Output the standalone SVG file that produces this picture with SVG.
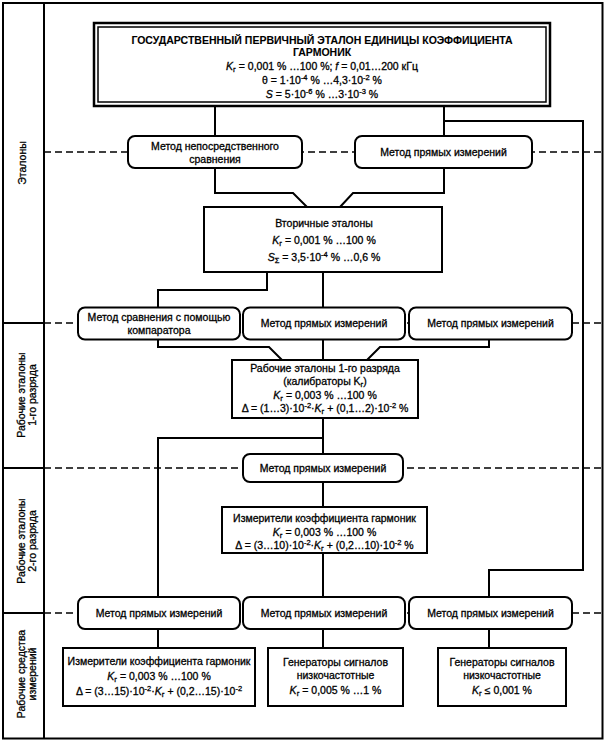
<svg xmlns="http://www.w3.org/2000/svg" width="605" height="742" viewBox="0 0 605 742">
<defs>
<style>
.frame{fill:none;stroke:#000;stroke-width:2}
.box{fill:#fff;stroke:#000;stroke-width:2}
.conn{fill:none;stroke:#000;stroke-width:2}
.dash{fill:none;stroke:#000;stroke-width:1.6;stroke-dasharray:7 4}
.t{font-family:"Liberation Sans",Arial,sans-serif;font-size:10.5px;text-anchor:middle;fill:#000;stroke:#000;stroke-width:0.3}
.b{font-weight:bold;stroke-width:0.1}
.i{font-style:italic}
.s{font-size:7.5px}
</style>
</defs>
<rect width="605" height="742" fill="#fff"/>
<g id="frame">
<rect class="frame" x="3" y="3" width="599.5" height="735.5"/>
<line class="frame" x1="44" y1="3" x2="44" y2="738.5"/>
<line class="frame" x1="3" y1="323" x2="44" y2="323"/>
<line class="frame" x1="3" y1="468" x2="44" y2="468"/>
<line class="frame" x1="3" y1="613" x2="44" y2="613"/>
<line class="dash" x1="44" y1="152" x2="602" y2="152"/>
<line class="dash" x1="44" y1="323" x2="602" y2="323"/>
<line class="dash" x1="44" y1="468" x2="602" y2="468"/>
<line class="dash" x1="44" y1="613" x2="602" y2="613"/>
<text class="t" transform="translate(26,163) rotate(-90)">Эталоны</text>
<text class="t" transform="translate(24.5,395) rotate(-90)">Рабочие эталоны</text>
<text class="t" transform="translate(36,395) rotate(-90)">1-го разряда</text>
<text class="t" transform="translate(24.5,541) rotate(-90)">Рабочие эталоны</text>
<text class="t" transform="translate(36,541) rotate(-90)">2-го разряда</text>
<text class="t" transform="translate(24.5,674) rotate(-90)">Рабочие средства</text>
<text class="t" transform="translate(36,674) rotate(-90)">измерений</text>
</g>
<g id="connectors">
<path class="conn" d="M215,106 V136"/>
<path class="conn" d="M444,106 V136"/>
<path class="conn" d="M444,121 H583 V570 H489 V597"/>
<path class="conn" d="M215,168 V193 H293 L307,207"/>
<path class="conn" d="M444,168 V193 H353 L340,207"/>
<path class="conn" d="M267,272 V290 H158 V307.5"/>
<path class="conn" d="M323,272 V307.5"/>
<path class="conn" d="M158,339.5 V347 H269 L282,360"/>
<path class="conn" d="M323,339.5 V360"/>
<path class="conn" d="M489,339.5 V347 H380 L367,360"/>
<path class="conn" d="M323,418 V454"/>
<path class="conn" d="M323,438 H158 V597"/>
<path class="conn" d="M323,482 V507"/>
<path class="conn" d="M323,553 V597"/>
<path class="conn" d="M158,629 V648"/>
<path class="conn" d="M323,629 V648"/>
<path class="conn" d="M489,629 V648"/>
</g>
<g id="primary">
<rect x="94" y="23" width="456" height="83" fill="#fff" stroke="#000" stroke-width="2.5"/>
<rect x="98" y="27" width="448" height="75" fill="none" stroke="#000" stroke-width="1.5"/>
<text class="t b" x="322" y="44">ГОСУДАРСТВЕННЫЙ ПЕРВИЧНЫЙ ЭТАЛОН ЕДИНИЦЫ КОЭФФИЦИЕНТА</text>
<text class="t b" x="322" y="55.5">ГАРМОНИК</text>
<text class="t" x="322" y="69.5"><tspan class="i">K</tspan><tspan class="s" dy="2">г</tspan><tspan dy="-2"> = 0,001 % …100 %; </tspan><tspan class="i">f</tspan> = 0,01…200 кГц</text>
<text class="t" x="322" y="83.5">θ = 1·10<tspan class="s" dy="-4">-4</tspan><tspan dy="4"> % …4,3·10</tspan><tspan class="s" dy="-4">-2</tspan><tspan dy="4"> %</tspan></text>
<text class="t" x="322" y="97.5"><tspan class="i">S</tspan> = 5·10<tspan class="s" dy="-4">-6</tspan><tspan dy="4"> % …3·10</tspan><tspan class="s" dy="-4">-3</tspan><tspan dy="4"> %</tspan></text>
</g>
<g id="m-direct-compare">
<rect class="box" x="128" y="136" width="174" height="32" rx="7"/>
<text class="t" x="215" y="149.5">Метод непосредственного</text>
<text class="t" x="215" y="163">сравнения</text>
</g>
<g id="m-direct-1">
<rect class="box" x="355" y="136" width="177" height="32" rx="7"/>
<text class="t" x="443.5" y="155.5">Метод прямых измерений</text>
</g>
<g id="secondary">
<rect class="box" x="204" y="207" width="238" height="65"/>
<text class="t" x="324" y="227">Вторичные эталоны</text>
<text class="t" x="324" y="244"><tspan class="i">K</tspan><tspan class="s" dy="2">г</tspan><tspan dy="-2"> = 0,001 % …100 %</tspan></text>
<text class="t" x="324" y="261"><tspan class="i">S</tspan><tspan class="s" dy="2">Σ</tspan><tspan dy="-2"> = 3,5·10</tspan><tspan class="s" dy="-4">-4</tspan><tspan dy="4"> % …0,6 %</tspan></text>
</g>
<g id="m-comparator">
<rect class="box" x="78" y="307.5" width="162" height="32" rx="7"/>
<text class="t" x="159" y="320.5">Метод сравнения с помощью</text>
<text class="t" x="159" y="334">компаратора</text>
</g>
<g id="m-direct-2">
<rect class="box" x="243" y="307.5" width="162" height="32" rx="7"/>
<text class="t" x="324" y="327">Метод прямых измерений</text>
</g>
<g id="m-direct-3">
<rect class="box" x="409" y="307.5" width="163" height="32" rx="7"/>
<text class="t" x="490.5" y="327">Метод прямых измерений</text>
</g>
<g id="working-1">
<rect class="box" x="232" y="360" width="186" height="58"/>
<text class="t" x="325" y="371.5">Рабочие эталоны 1-го разряда</text>
<text class="t" x="325" y="385">(калибраторы K<tspan class="s" dy="2">г</tspan><tspan dy="-2">)</tspan></text>
<text class="t" x="325" y="398.5"><tspan class="i">K</tspan><tspan class="s" dy="2">г</tspan><tspan dy="-2"> = 0,003 % …100 %</tspan></text>
<text class="t" x="325" y="412">Δ = (1…3)·10<tspan class="s" dy="-4">-2</tspan><tspan dy="4">·</tspan><tspan class="i">K</tspan><tspan class="s" dy="2">г</tspan><tspan dy="-2"> + (0,1…2)·10</tspan><tspan class="s" dy="-4">-2</tspan><tspan dy="4"> %</tspan></text>
</g>
<g id="m-direct-4">
<rect class="box" x="243" y="454" width="160" height="28" rx="7"/>
<text class="t" x="323" y="471.5">Метод прямых измерений</text>
</g>
<g id="working-2">
<rect class="box" x="222" y="507" width="205" height="46"/>
<text class="t" x="324.5" y="522">Измерители коэффициента гармоник</text>
<text class="t" x="324.5" y="535.5"><tspan class="i">K</tspan><tspan class="s" dy="2">г</tspan><tspan dy="-2"> = 0,003 % …100 %</tspan></text>
<text class="t" x="324.5" y="549">Δ = (3…10)·10<tspan class="s" dy="-4">-2</tspan><tspan dy="4">·</tspan><tspan class="i">K</tspan><tspan class="s" dy="2">г</tspan><tspan dy="-2"> + (0,2…10)·10</tspan><tspan class="s" dy="-4">-2</tspan><tspan dy="4"> %</tspan></text>
</g>
<g id="m-direct-5">
<rect class="box" x="78" y="597" width="162" height="32" rx="7"/>
<text class="t" x="159" y="616.5">Метод прямых измерений</text>
</g>
<g id="m-direct-6">
<rect class="box" x="243" y="597" width="162" height="32" rx="7"/>
<text class="t" x="324" y="616.5">Метод прямых измерений</text>
</g>
<g id="m-direct-7">
<rect class="box" x="409" y="597" width="163" height="32" rx="7"/>
<text class="t" x="490.5" y="616.5">Метод прямых измерений</text>
</g>
<g id="meters">
<rect class="box" x="63" y="648" width="192" height="58"/>
<text class="t" x="159" y="665">Измерители коэффициента гармоник</text>
<text class="t" x="159" y="680"><tspan class="i">K</tspan><tspan class="s" dy="2">г</tspan><tspan dy="-2"> = 0,003 % …100 %</tspan></text>
<text class="t" x="159" y="695">Δ = (3…15)·10<tspan class="s" dy="-4">-2</tspan><tspan dy="4">·</tspan><tspan class="i">K</tspan><tspan class="s" dy="2">г</tspan><tspan dy="-2"> + (0,2…15)·10</tspan><tspan class="s" dy="-4">-2</tspan></text>
</g>
<g id="generators-1">
<rect class="box" x="268" y="648" width="135" height="58"/>
<text class="t" x="335.5" y="665.5">Генераторы сигналов</text>
<text class="t" x="335.5" y="679">низкочастотные</text>
<text class="t" x="335.5" y="694"><tspan class="i">K</tspan><tspan class="s" dy="2">г</tspan><tspan dy="-2"> = 0,005 % …1 %</tspan></text>
</g>
<g id="generators-2">
<rect class="box" x="438" y="648" width="128" height="58"/>
<text class="t" x="502" y="665.5">Генераторы сигналов</text>
<text class="t" x="502" y="679">низкочастотные</text>
<text class="t" x="502" y="694"><tspan class="i">K</tspan><tspan class="s" dy="2">г</tspan><tspan dy="-2"> ≤ 0,001 %</tspan></text>
</g>
</svg>
